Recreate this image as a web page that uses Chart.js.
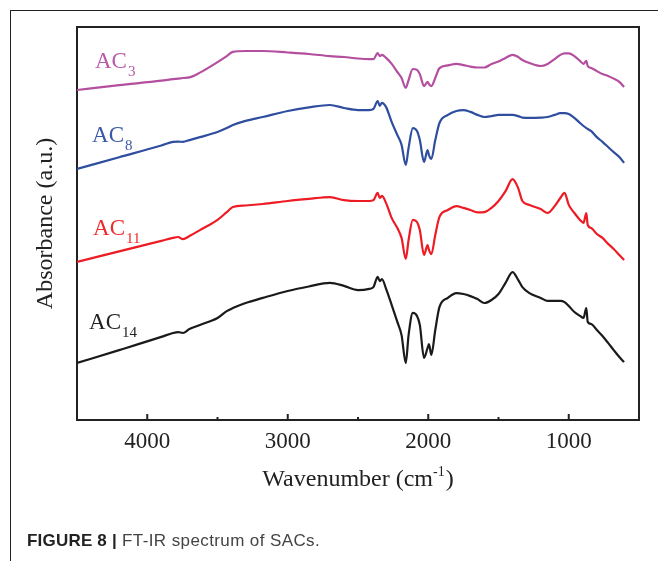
<!DOCTYPE html>
<html><head><meta charset="utf-8">
<script src="https://cdn.jsdelivr.net/npm/chart.js@4.4.1/dist/chart.umd.min.js"></script>
<style>
html,body{margin:0;padding:0;background:#fff;}
#wrap{position:relative;width:658px;height:561px;overflow:hidden;background:#fff;}
#frame{position:absolute;left:10px;top:10px;width:700px;height:600px;border-top:1px solid #222;border-left:1px solid #222;}
#c{position:absolute;left:0;top:0;}
#cap{position:absolute;left:27px;top:531px;font-family:"Liberation Sans",Arial,sans-serif;font-size:17px;letter-spacing:0.4px;color:#444;white-space:nowrap;line-height:19px;}
#cap b{font-weight:bold;color:#222;letter-spacing:0.2px;}
</style></head><body>
<div id="wrap"><div id="frame"></div><canvas id="c" width="658" height="561"></canvas><div id="cap"><b>FIGURE 8 |</b> FT-IR spectrum of SACs.</div></div>
<script>
// Wavenumber grid (cm-1)
const wavenumbers = [4500,4200,3900,3817,3780,3746,3700,3625,3500,3434,3391,3300,3178,3000,2850,2700,2600,2500,2420,2390,2360,2345,2330,2300,2260,2220,2190,2160,2140,2110,2080,2060,2030,2005,1995,1978,1950,1920,1860,1800,1750,1700,1650,1600,1550,1500,1450,1400,1360,1330,1280,1200,1150,1100,1060,1030,1000,960,920,895,875,865,840,800,760,720,680,640,606];
// Absorbance (a.u., offset curves)
const ac3 = [110.0,111.6,113.1,113.6,113.8,114.0,114.2,115.8,119.3,121.3,122.7,123.0,123.0,122.5,122.0,121.3,121.0,120.5,120.3,120.3,122.3,121.3,121.7,120.7,118.7,116.0,114.0,110.7,113.3,117.0,116.7,115.3,111.3,112.7,112.0,111.3,114.0,117.3,118.2,118.7,118.3,117.8,117.5,117.5,118.7,119.5,120.7,121.7,121.0,120.0,119.0,118.0,118.7,120.3,121.7,122.2,122.2,121.3,119.7,118.7,119.7,118.0,117.3,116.3,115.3,114.7,113.8,112.7,111.0];
const ac8 = [83.7,87.6,91.5,92.7,92.8,92.7,93.3,94.3,96.0,97.3,98.3,99.7,101.0,103.0,104.2,105.0,104.0,103.3,103.3,103.7,106.3,104.7,105.7,104.3,99.3,95.0,91.7,85.0,90.7,97.3,96.3,93.3,86.0,90.0,88.3,87.0,93.3,99.0,101.7,103.0,103.3,102.7,101.7,101.0,101.3,101.7,101.7,101.7,101.3,100.8,100.7,100.8,101.0,101.7,102.3,102.3,102.0,100.7,99.0,98.0,97.3,97.0,96.3,94.3,92.7,91.0,89.3,87.7,85.7];
const ac11 = [52.7,56.2,59.7,60.7,61.0,60.3,61.3,63.3,66.7,69.3,71.0,71.5,72.0,73.0,73.7,74.3,73.3,73.0,73.0,73.3,75.7,74.0,74.7,72.3,67.3,64.0,60.7,53.7,60.0,66.7,66.0,63.3,55.0,58.3,56.7,55.3,61.7,67.7,70.0,71.3,70.7,70.0,69.2,69.3,70.7,73.0,76.3,80.3,77.3,73.0,71.7,70.3,69.0,71.3,74.0,75.7,71.7,69.0,66.7,65.7,69.0,65.0,64.0,62.0,60.7,58.7,57.0,55.0,53.3];
const ac14 = [19.0,23.3,27.7,29.0,29.3,29.0,30.3,31.7,34.0,36.3,37.3,39.0,40.7,43.0,44.5,45.7,44.7,43.3,43.7,44.3,47.7,46.3,47.0,43.7,38.3,32.7,28.3,19.0,28.3,35.7,34.7,31.7,20.7,24.0,25.3,21.7,30.0,37.7,40.7,42.3,42.0,41.3,40.3,39.0,40.0,42.0,45.7,49.3,46.7,44.3,42.3,40.7,39.7,39.7,39.7,39.3,38.0,36.0,34.7,34.0,37.3,32.7,32.0,30.0,28.0,25.7,23.3,21.0,19.3];
const seriesBase = ['AC','AC','AC','AC'];
const seriesSub = ['3','8','11','14'];
const xTicks = [4000,3000,2000,1000];
const xMinorTicks = [3500,2500,1500];

const lineColors = ['#b34f9e','#2f4e9f','#ed1c24','#1a1a1a'];
const labelColors = ['#b85aa6','#3b58a6','#ee2a2a','#222222'];
const labelAnchors = [[4372,117.3],[4393,92.7],[4386,61.7],[4414,30.3]];
const allSeries = [ac3, ac8, ac11, ac14];

const datasets = allSeries.map((vals, i) => ({
  label: seriesBase[i] + seriesSub[i],
  data: wavenumbers.map((w, j) => ({x: w, y: vals[j]})),
  borderColor: lineColors[i],
  borderWidth: 2.2,
  pointRadius: 0,
  fill: false,
  cubicInterpolationMode: 'monotone'
}));

const serif = '"Liberation Serif","Times New Roman",serif';

const decor = {
  id: 'decor',
  afterDraw(chart) {
    const ctx = chart.ctx, a = chart.chartArea;
    const xs = chart.scales.x, ys = chart.scales.y;
    ctx.save();
    // top & right frame
    ctx.strokeStyle = '#222'; ctx.lineWidth = 2;
    ctx.beginPath();
    ctx.moveTo(a.left - 1, a.top); ctx.lineTo(a.right, a.top); ctx.lineTo(a.right, a.bottom + 1);
    ctx.stroke();
    // inward ticks
    ctx.lineWidth = 2;
    xTicks.forEach(v => { const p = xs.getPixelForValue(v); ctx.beginPath(); ctx.moveTo(p, a.bottom); ctx.lineTo(p, a.bottom - 6); ctx.stroke(); });
    xMinorTicks.forEach(v => { const p = xs.getPixelForValue(v); ctx.beginPath(); ctx.moveTo(p, a.bottom); ctx.lineTo(p, a.bottom - 3); ctx.stroke(); });
    // series labels
    allSeries.forEach((_, i) => {
      const px = xs.getPixelForValue(labelAnchors[i][0]);
      const py = ys.getPixelForValue(labelAnchors[i][1]);
      ctx.fillStyle = labelColors[i];
      ctx.textBaseline = 'alphabetic'; ctx.textAlign = 'left';
      ctx.font = '23px ' + serif;
      ctx.fillText(seriesBase[i], px, py);
      const w = ctx.measureText(seriesBase[i]).width;
      ctx.font = '15px ' + serif;
      ctx.fillText(seriesSub[i], px + w + 1, py + 8);
    });
    // x title
    ctx.fillStyle = '#222';
    ctx.font = '24px ' + serif;
    const t1 = 'Wavenumber (cm', t3 = ')', t2 = '-1';
    const w1 = ctx.measureText(t1).width, w3 = ctx.measureText(t3).width;
    ctx.font = '14px ' + serif;
    const w2 = ctx.measureText(t2).width;
    const cx = (a.left + a.right) / 2;
    let sx = cx - (w1 + w2 + w3 + 1) / 2;
    const by = 486;
    ctx.font = '24px ' + serif; ctx.textAlign = 'left';
    ctx.fillText(t1, sx, by);
    ctx.font = '14px ' + serif;
    ctx.fillText(t2, sx + w1, by - 10);
    ctx.font = '24px ' + serif;
    ctx.fillText(t3, sx + w1 + w2 + 1, by);
    // y title
    ctx.translate(52, (a.top + a.bottom) / 2);
    ctx.rotate(-Math.PI / 2);
    ctx.textAlign = 'center';
    ctx.font = '24px ' + serif;
    ctx.fillText('Absorbance (a.u.)', 0, 0);
    ctx.restore();
  }
};

new Chart(document.getElementById('c'), {
  type: 'line',
  data: { datasets },
  options: {
    responsive: false,
    animation: false,
    events: [],
    layout: { padding: { left: 10, top: 27, right: 19, bottom: 0 } },
    plugins: { legend: { display: false }, tooltip: { enabled: false } },
    scales: {
      x: {
        type: 'linear', reverse: true, min: 500, max: 4500,
        afterBuildTicks: s => { s.ticks = xTicks.map(v => ({ value: v })); },
        afterFit: s => { s.height = 141; },
        grid: { display: false, drawTicks: false },
        border: { display: true, color: '#222', width: 2 },
        ticks: { font: { family: serif, size: 23 }, color: '#222', padding: 8, maxRotation: 0, autoSkip: false, callback: v => String(v) }
      },
      y: {
        min: 0, max: 131,
        afterFit: s => { s.width = 67; },
        grid: { display: false, drawTicks: false },
        border: { display: true, color: '#222', width: 2 },
        ticks: { display: false }
      }
    }
  },
  plugins: [decor]
});
</script>
</body></html>
